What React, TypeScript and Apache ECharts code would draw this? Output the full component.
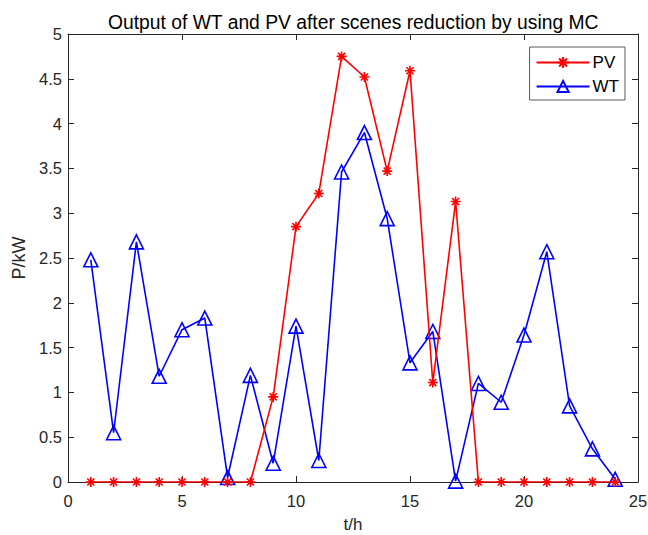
import React, { useEffect, useRef } from "react";
import * as echarts from "echarts";

const hours = [1, 2, 3, 4, 5, 6, 7, 8, 9, 10, 11, 12, 13, 14, 15, 16, 17, 18, 19, 20, 21, 22, 23, 24];
const pvValues = [0, 0, 0, 0, 0, 0, 0, 0, 0.95, 2.85, 3.22, 4.75, 4.52, 3.47, 4.59, 1.11, 3.13, 0, 0, 0, 0, 0, 0, 0];
const wtValues = [2.48, 0.55, 2.68, 1.18, 1.70, 1.83, 0.05, 1.19, 0.21, 1.74, 0.24, 3.46, 3.90, 2.94, 1.33, 1.68, 0.01, 1.10, 0.89, 1.64, 2.57, 0.85, 0.37, 0.03];

const titleText = "Output of WT and PV after scenes reduction by using MC";
const xName = "t/h";
const yName = "P/kW";

const STAR = "path://M0,-10L0,10M-10,0L10,0M-7.07,-7.07L7.07,7.07M-7.07,7.07L7.07,-7.07";

export default function App() {
  const ref = useRef<HTMLDivElement>(null);
  useEffect(() => {
    if (!ref.current) return;
    const chart = echarts.init(ref.current, undefined, { renderer: "svg" });
    const axisColor = "#262626";
    const font = "Liberation Sans, Arial, sans-serif";
    const baseAxis = {
      axisLine: { show: true, onZero: false, lineStyle: { color: axisColor, width: 1 } },
      axisTick: { show: true, inside: true, length: 6, lineStyle: { color: axisColor } },
      splitLine: { show: false },
    };
    chart.setOption({
      animation: false,
      backgroundColor: "#ffffff",
      textStyle: { fontFamily: font },
      title: {
        text: titleText,
        left: 103,
        top: 8,
        padding: 5,
        textStyle: { fontSize: 19.3, fontWeight: "normal", color: "#000", fontFamily: font },
      },
      legend: {
        show: true,
        right: 23,
        top: 47,
        orient: "vertical",
        borderColor: "#595959",
        borderWidth: 1,
        padding: [7, 6, 5, 6],
        itemGap: 7,
        itemWidth: 53,
        itemHeight: 14,
        textStyle: { fontSize: 17, color: "#000", fontFamily: font, padding: [0, 0, 0, -2] },
        data: ["PV", "WT"],
      },
      grid: { left: 68, right: 10, top: 34, bottom: 53, containLabel: false, outerBoundsMode: "none" },
      xAxis: [
        {
          ...baseAxis,
          type: "value",
          min: 0,
          max: 25,
          interval: 5,
          name: xName,
          nameLocation: "middle",
          nameGap: 34,
          nameTextStyle: { fontSize: 17, color: axisColor, fontFamily: font },
          axisLabel: { fontSize: 16.5, color: axisColor, margin: 10, fontFamily: font },
        },
        {
          ...baseAxis,
          type: "value",
          position: "top",
          min: 0,
          max: 25,
          interval: 5,
          axisLabel: { show: false },
        },
      ],
      yAxis: [
        {
          ...baseAxis,
          type: "value",
          min: 0,
          max: 5,
          interval: 0.5,
          name: yName,
          nameLocation: "middle",
          nameGap: 40,
          nameTextStyle: { fontSize: 18, color: axisColor, fontFamily: font },
          axisLabel: { fontSize: 16.5, color: axisColor, margin: 6, fontFamily: font },
        },
        {
          ...baseAxis,
          type: "value",
          position: "right",
          min: 0,
          max: 5,
          interval: 0.5,
          axisLabel: { show: false },
        },
      ],
      series: [
        {
          name: "PV",
          type: "line",
          data: hours.map((h, i) => [h, pvValues[i]]),
          symbol: STAR,
          symbolSize: 10,
          showAllSymbol: true,
          lineStyle: { color: "#ff0000", width: 1.6 },
          itemStyle: { color: "none", borderColor: "#ff0000", borderWidth: 1.6 },
          z: 3,
        },
        {
          name: "WT",
          type: "line",
          data: hours.map((h, i) => [h, wtValues[i]]),
          symbol: "triangle",
          symbolSize: 14,
          showAllSymbol: true,
          lineStyle: { color: "#0000ff", width: 1.6 },
          itemStyle: { color: "none", borderColor: "#0000ff", borderWidth: 1.6 },
          z: 2,
        },
      ],
    });
    return () => chart.dispose();
  }, []);
  return <div ref={ref} style={{ width: 648, height: 535, position: "absolute", left: 0, top: 0 }} />;
}
